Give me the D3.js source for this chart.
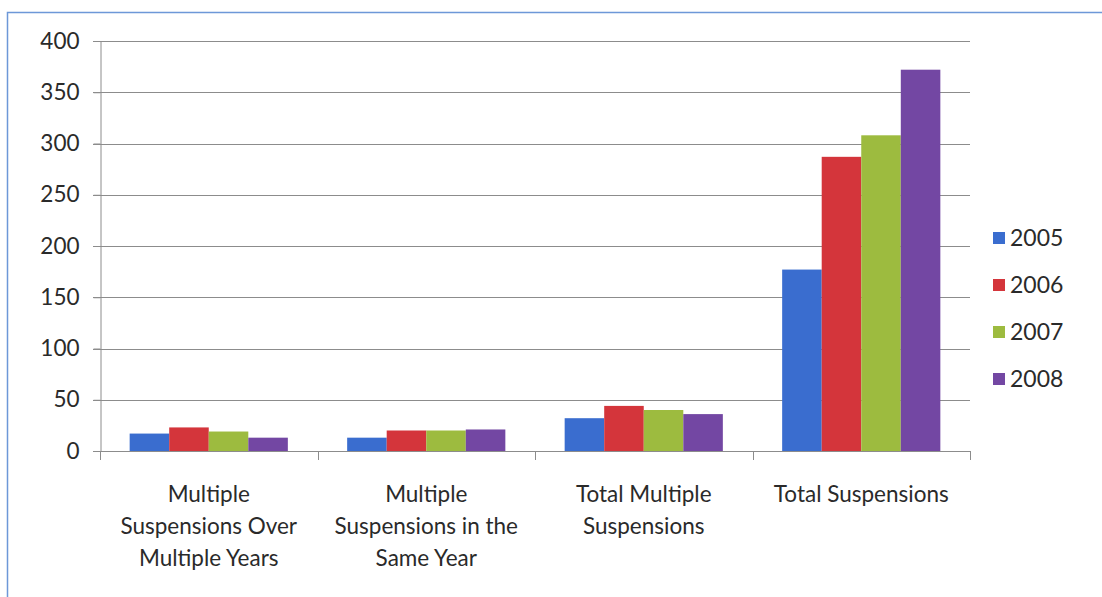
<!DOCTYPE html>
<html><head><meta charset="utf-8">
<script src="https://cdn.jsdelivr.net/npm/d3@7"></script>
<style>html,body{margin:0;padding:0;background:#fff;}svg{display:block;}</style>
</head><body>
<svg id="chart" width="1102" height="597"></svg>
<script>
const categories = [["Multiple","Suspensions Over","Multiple Years"],["Multiple","Suspensions in the","Same Year"],["Total Multiple","Suspensions"],["Total Suspensions"]];
const seriesNames = ["2005","2006","2007","2008"];
const values2005 = [17, 13, 32, 177];
const values2006 = [23, 20, 44, 287];
const values2007 = [19, 20, 40, 308];
const values2008 = [13, 21, 36, 372];
const yTicks = [0,50,100,150,200,250,300,350,400];
const colors = ["#3a6dcf","#d4353b","#9dbb3f","#7347a3"];

(function(){
const seriesValues = [values2005, values2006, values2007, values2008];
const svg = d3.select("#chart");
const font = "Lato, 'Open Sans', sans-serif";

// frame
svg.append("rect").attr("x",7.5).attr("y",12.5).attr("width",1200).attr("height",700)
  .attr("fill","none").attr("stroke","#6d98d8").attr("stroke-width",1.5);

const pLeft = 100, pRight = 970, pTop = 41, pBottom = 451;
const y = d3.scaleLinear().domain([0,400]).range([pBottom, pTop]);
const x0 = d3.scaleBand().domain(d3.range(categories.length)).range([pLeft, pRight]).paddingInner(0).paddingOuter(0);
const x1 = d3.scaleBand().domain(d3.range(seriesNames.length)).range([0, x0.bandwidth()]).paddingInner(0).paddingOuter(0.75);

// gridlines
svg.append("g").selectAll("line").data(yTicks).join("line")
  .attr("x1", pLeft-7).attr("x2", pRight).attr("y1", d=>Math.round(y(d))+0.5).attr("y2", d=>Math.round(y(d))+0.5)
  .attr("stroke","#8c8c8c").attr("stroke-width",1);

// y axis
const yAxis = svg.append("g").attr("transform",`translate(${pLeft+0.5},0)`)
  .call(d3.axisLeft(y).tickValues(yTicks).tickSize(7).tickPadding(14));
yAxis.select(".domain").attr("stroke","#8c8c8c");
yAxis.selectAll(".tick line").attr("stroke","#8c8c8c");
yAxis.selectAll("text").attr("font-family",font).attr("font-size",22.5).attr("fill","#2a2a2a");

// bars
const groups = svg.append("g").selectAll("g").data(categories).join("g")
  .attr("transform",(d,i)=>`translate(${x0(i)},0)`);
groups.selectAll("rect").data((d,i)=>seriesValues.map((s,j)=>({j, v:s[i]}))).join("rect")
  .attr("x", d=>x1(d.j)).attr("width", x1.bandwidth())
  .attr("y", d=>y(d.v)).attr("height", d=>y(0)-y(d.v))
  .attr("fill", d=>colors[d.j]);

// x axis
const xAxisG = svg.append("g");
xAxisG.append("line").attr("x1",pLeft).attr("x2",pRight).attr("y1",pBottom+0.5).attr("y2",pBottom+0.5).attr("stroke","#8c8c8c");
const bounds = d3.range(categories.length+1).map(i=> i<categories.length ? x0(i) : x0(categories.length-1)+x0.bandwidth());
xAxisG.selectAll("line.tk").data(bounds).join("line").attr("class","tk")
  .attr("x1",d=>Math.round(d)+0.5).attr("x2",d=>Math.round(d)+0.5).attr("y1",pBottom).attr("y2",pBottom+9).attr("stroke","#8c8c8c");

// category labels
const lab = svg.append("g").selectAll("text").data(categories).join("text")
  .attr("font-family",font).attr("font-size",22.5).attr("fill","#2a2a2a").attr("text-anchor","middle");
lab.each(function(lines,i){
  const t = d3.select(this);
  lines.forEach((ln,k)=>{
    t.append("tspan").attr("x", x0(i)+x0.bandwidth()/2).attr("y", 502 + k*32).text(ln);
  });
});

// legend
const leg = svg.append("g").selectAll("g").data(seriesNames).join("g")
  .attr("transform",(d,i)=>`translate(993,${238 + i*47})`);
leg.append("rect").attr("x",0).attr("y",-6).attr("width",12).attr("height",12).attr("fill",(d,i)=>colors[i]);
leg.append("text").attr("x",17).attr("y",8).attr("font-family",font).attr("font-size",23).attr("fill","#2a2a2a").text(d=>d);
})();
</script>
</body></html>
